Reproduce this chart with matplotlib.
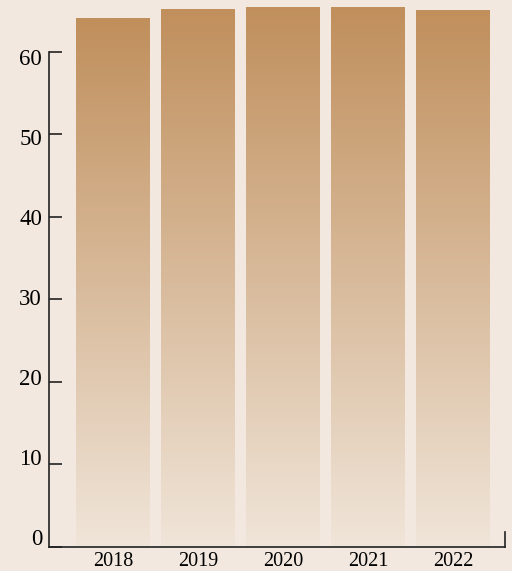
import matplotlib
matplotlib.use("Agg")
import matplotlib.pyplot as plt
import numpy as np
from matplotlib.colors import LinearSegmentedColormap

years = ["2018", "2019", "2020", "2021", "2022"]
values = [64.1, 65.2, 65.5, 65.4, 65.1]
yticks = [0, 10, 20, 30, 40, 50, 60]

bg = "#f2e8df"
top_col = "#c08f5c"
bot_col = "#f0e5d9"

plt.rcParams['font.family'] = ['Liberation Serif', 'DejaVu Serif']

fig = plt.figure(figsize=(5.12, 5.71), dpi=100, facecolor=bg)
rect = [49/512, 24/571, 456/512, 547/571]
ax = fig.add_axes(rect)
ax.set_facecolor(bg)

x = np.arange(len(years))
bars = ax.bar(x, values, width=0.87, color="none", edgecolor="none")

cmap = LinearSegmentedColormap.from_list("g", [bot_col, top_col])
grad = np.linspace(0, 1, 256).reshape(-1, 1)
for b in bars:
    x0, y0 = b.get_x(), b.get_y()
    w, h = b.get_width(), b.get_height()
    im = ax.imshow(grad, cmap=cmap, aspect="auto", origin="lower",
                   extent=[x0, x0 + w, y0, y0 + h], interpolation="bilinear", zorder=1)
    im.set_clip_path(b)

ax.set_xlim(-0.753, 4.612)
ax.set_ylim(0, 66.3)

ax.set_xticks(x)
ax.set_xticklabels(years)
ax.set_yticks(yticks)
ax.set_yticklabels([])

ax.spines['top'].set_visible(False)
ax.spines['left'].set_bounds(0, 60)
ax.spines['right'].set_bounds(0, 1.8)
for s in ['left', 'bottom', 'right']:
    ax.spines[s].set_color("#222222")
    ax.spines[s].set_linewidth(1.2)

ax.tick_params(axis='y', direction='in', length=9.5, width=1.2, color="#222222")
ax.tick_params(axis='x', length=0, labelsize=14.5, pad=3.8, labelcolor="black")

# label axis (labels sit on a slightly different scale than the ticks)
lax = fig.add_axes(rect, frameon=False)
lax.patch.set_visible(False)
lax.set_xticks([])
lax.set_ylim(-1.19, 67.1)
lax.set_yticks(yticks)
lax.set_yticklabels([str(t) for t in yticks])
lax.tick_params(axis='y', length=0, labelsize=16.5, pad=5, labelcolor="black")

fig.savefig("out.png", dpi=100, facecolor=bg)
